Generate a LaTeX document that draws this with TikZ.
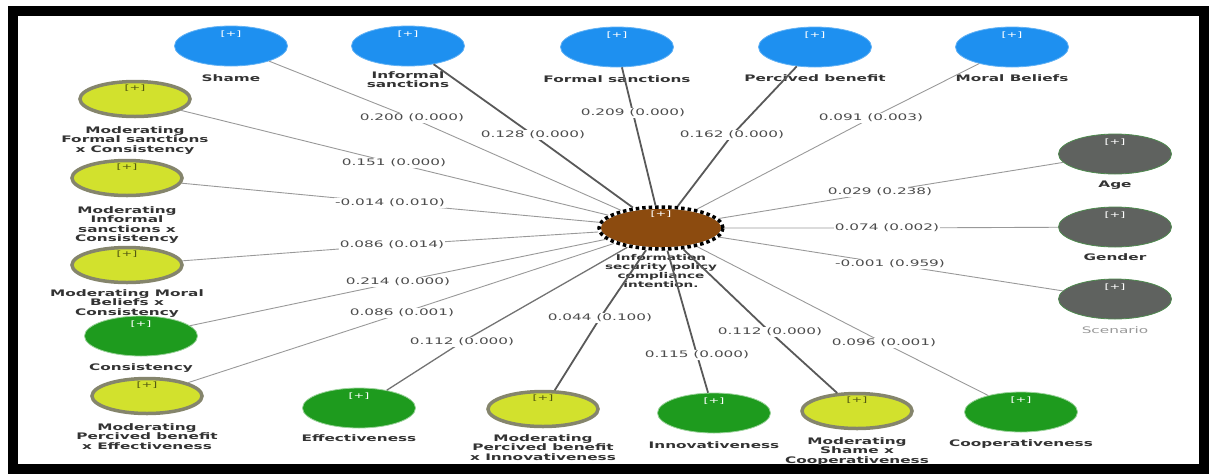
\documentclass[tikz,border=0pt]{standalone}
\usepackage{fontspec}
\newfontfamily\lf{DejaVu Sans}[FakeStretch=1.7]
\usetikzlibrary{shapes.geometric}
\definecolor{cblue}{HTML}{1E90F0}
\definecolor{cyel}{HTML}{D2E12D}
\definecolor{cyelb}{HTML}{85856C}
\definecolor{cgreen}{HTML}{1E9B1E}
\definecolor{cgray}{HTML}{5F625F}
\definecolor{cgrayb}{HTML}{4E8A4E}
\definecolor{cbrown}{HTML}{8C4B0F}
\begin{document}
\begin{tikzpicture}[x=1pt,y=-1pt,
  lat/.style={ellipse, minimum width=113pt, minimum height=40pt, inner sep=0pt},
  blueN/.style={lat, fill=cblue, draw=cblue!70!white, line width=0.8pt},
  yelN/.style={lat, minimum width=110pt, minimum height=35pt, fill=cyel, draw=cyelb, line width=3.5pt},
  greenN/.style={lat, fill=cgreen, draw=cgreen!45!white, line width=0.8pt},
  grayN/.style={lat, fill=cgray, draw=cgrayb, line width=0.8pt},
  centerN/.style={ellipse, minimum width=124pt, minimum height=42pt, inner sep=0pt, draw=black, line width=3.5pt, dash pattern=on 3.5pt off 3pt, preaction={fill=cbrown, draw=white, line width=3.5pt, solid}},
  plusT/.style={font=\lf\fontsize{7.5}{7.5}\selectfont, text=white, inner sep=0pt},
  plusY/.style={plusT, text=black!60!cyel},
  nameT/.style={font=\lf\bfseries\fontsize{9}{9.5}\selectfont, text=black!80, align=center, anchor=north, inner sep=0pt},
  nameC/.style={nameT, font=\lf\bfseries\fontsize{8}{9}\selectfont},
  nameL/.style={font=\lf\fontsize{9}{9.5}\selectfont, text=black!40, align=center, anchor=north, inner sep=0pt},
  edgeT/.style={font=\lf\fontsize{9}{10}\selectfont, text=black!70, fill=white, inner sep=1pt},
  edgeThin/.style={draw=black!40, line width=0.9pt},
  edgeMid/.style={draw=black!55, line width=1.3pt},
  edgeThick/.style={draw=black!65, line width=1.8pt}]
\useasboundingbox (0,0) rectangle (1209,475);
\draw[line width=10pt, black] (13,11) rectangle (1204,469);

% centre
\node[centerN] (ctr) at (661,228) {};
\node[plusT] (ctrp) at (661,214) {[+]};
\node[nameC] (ctrt) at (661,254) {Information\\security policy\\compliance\\intention.};

% top row
\node[blueN] (shame) at (231,46) {};
\node[blueN] (inf) at (408,46) {};
\node[blueN] (formal) at (617,47) {};
\node[blueN] (perc) at (815,47) {};
\node[blueN] (moral) at (1012,47) {};
\node[plusT] (shamep) at (231,34) {[+]};
\node[plusT] (infp) at (408,34) {[+]};
\node[plusT] (formalp) at (617,35) {[+]};
\node[plusT] (percp) at (815,35) {[+]};
\node[plusT] (moralp) at (1012,35) {[+]};
\node[nameT] (shamet) at (231,74) {Shame};
\node[nameT] (inft) at (408,71) {Informal\\sanctions};
\node[nameT] (formalt) at (617,75) {Formal sanctions};
\node[nameT] (perct) at (815,74) {Percived benefit};
\node[nameT] (moralt) at (1012,74) {Moral Beliefs};

% left column
\node[yelN] (mfc) at (135,99) {};
\node[yelN] (mic) at (127,178) {};
\node[yelN] (mmc) at (127,265) {};
\node[greenN] (cons) at (141,336) {};
\node[yelN] (mpe) at (147,396) {};
\node[plusY] (mfcp) at (135,88) {[+]};
\node[plusY] (micp) at (127,167) {[+]};
\node[plusY] (mmcp) at (127,254) {[+]};
\node[plusT] (consp) at (141,324) {[+]};
\node[plusY] (mpep) at (147,385) {[+]};
\node[nameT] (mfct) at (135,126) {Moderating\\Formal sanctions\\x Consistency};
\node[nameT] (mict) at (127,206) {Moderating\\Informal\\sanctions x\\Consistency};
\node[nameT] (mmct) at (127,289) {Moderating Moral\\Beliefs x\\Consistency};
\node[nameT] (const) at (141,363) {Consistency};
\node[nameT] (mpet) at (147,423) {Moderating\\Percived benefit\\x Effectiveness};

% bottom row
\node[greenN] (eff) at (359,408) {};
\node[yelN] (mpi) at (543,409) {};
\node[greenN] (inno) at (714,413) {};
\node[yelN] (msc) at (857,411) {};
\node[greenN] (coop) at (1021,412) {};
\node[plusT] (effp) at (359,396) {[+]};
\node[plusY] (mpip) at (543,398) {[+]};
\node[plusT] (innop) at (714,401) {[+]};
\node[plusY] (mscp) at (857,400) {[+]};
\node[plusT] (coopp) at (1021,400) {[+]};
\node[nameT] (efft) at (359,434) {Effectiveness};
\node[nameT] (mpit) at (543,434) {Moderating\\Percived benefit\\x Innovativeness};
\node[nameT] (innot) at (714,441) {Innovativeness};
\node[nameT] (msct) at (857,437) {Moderating\\Shame x\\Cooperativeness};
\node[nameT] (coopt) at (1021,439) {Cooperativeness};

% right column
\node[grayN] (age) at (1115,154) {};
\node[grayN] (gender) at (1115,227) {};
\node[grayN] (scen) at (1115,299) {};
\node[plusT] (agep) at (1115,142) {[+]};
\node[plusT] (genderp) at (1115,215) {[+]};
\node[plusT] (scenp) at (1115,287) {[+]};
\node[nameT] (aget) at (1115,181) {Age};
\node[nameT] (gendert) at (1115,253) {Gender};
\node[nameL] (scent) at (1115,326) {Scenario};

% label coordinates
\coordinate (l1) at (412,118);
\coordinate (l2) at (533,135);
\coordinate (l3) at (633,113);
\coordinate (l4) at (732,135);
\coordinate (l5) at (871,118);
\coordinate (l6) at (394,163);
\coordinate (l7) at (390,203);
\coordinate (l8) at (392,245);
\coordinate (l9) at (398,282);
\coordinate (l10) at (402,313);
\coordinate (l11) at (462,342);
\coordinate (l12) at (600,318);
\coordinate (l13) at (697,355);
\coordinate (l14) at (770,332);
\coordinate (l15) at (884,343);
\coordinate (l16) at (880,192);
\coordinate (l17) at (887,228);
\coordinate (l18) at (890,264);

% connectors
\draw[edgeThin] (shame) -- (l1) -- (ctr);
\draw[edgeThick] (inf) -- (l2) -- (ctr);
\draw[edgeThick] (formal) -- (l3) -- (ctr);
\draw[edgeThick] (perc) -- (l4) -- (ctr);
\draw[edgeThin] (moral) -- (l5) -- (ctr);
\draw[edgeThin] (mfc) -- (l6) -- (ctr);
\draw[edgeThin] (mic) -- (l7) -- (ctr);
\draw[edgeThin] (mmc) -- (l8) -- (ctr);
\draw[edgeThin] (cons) -- (l9) -- (ctr);
\draw[edgeThin] (mpe) -- (l10) -- (ctr);
\draw[edgeMid] (eff) -- (l11) -- (ctr);
\draw[edgeThick] (mpi) -- (l12) -- (ctr);
\draw[edgeThick] (inno) -- (l13) -- (ctr);
\draw[edgeThick] (msc) -- (l14) -- (ctr);
\draw[edgeThin] (coop) -- (l15) -- (ctr);
\draw[edgeThin] (age) -- (l16) -- (ctr);
\draw[edgeThin] (gender) -- (l17) -- (ctr);
\draw[edgeThin] (scen) -- (l18) -- (ctr);

% connector labels
\node[edgeT] (e1) at (l1) {0.200 (0.000)};
\node[edgeT] (e2) at (l2) {0.128 (0.000)};
\node[edgeT] (e3) at (l3) {0.209 (0.000)};
\node[edgeT] (e4) at (l4) {0.162 (0.000)};
\node[edgeT] (e5) at (l5) {0.091 (0.003)};
\node[edgeT] (e6) at (l6) {0.151 (0.000)};
\node[edgeT] (e7) at (l7) {-0.014 (0.010)};
\node[edgeT] (e8) at (l8) {0.086 (0.014)};
\node[edgeT] (e9) at (l9) {0.214 (0.000)};
\node[edgeT] (e10) at (l10) {0.086 (0.001)};
\node[edgeT] (e11) at (l11) {0.112 (0.000)};
\node[edgeT] (e12) at (l12) {0.044 (0.100)};
\node[edgeT] (e13) at (l13) {0.115 (0.000)};
\node[edgeT] (e14) at (l14) {0.112 (0.000)};
\node[edgeT] (e15) at (l15) {0.096 (0.001)};
\node[edgeT] (e16) at (l16) {0.029 (0.238)};
\node[edgeT] (e17) at (l17) {0.074 (0.002)};
\node[edgeT] (e18) at (l18) {-0.001 (0.959)};
\end{tikzpicture}
\end{document}
